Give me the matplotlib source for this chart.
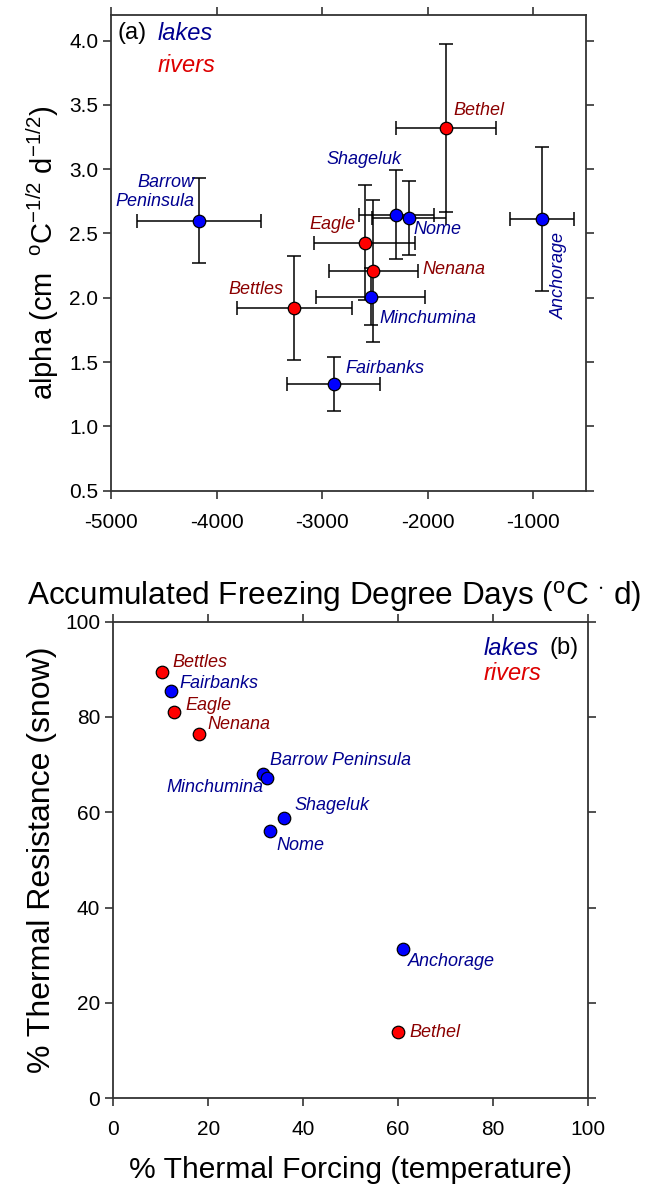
import numpy as np
import matplotlib
matplotlib.use("Agg")
from matplotlib import pyplot as plt

plt.rcParams['font.family'] = ['Liberation Sans', 'DejaVu Sans']
plt.rcParams['mathtext.fontset'] = 'custom'
plt.rcParams['mathtext.rm'] = 'Liberation Sans'
plt.rcParams['mathtext.it'] = 'Liberation Sans:italic'
plt.rcParams['axes.unicode_minus'] = False

# panel (a): accumulated freezing degree days vs alpha, with error bars
sites_a = ['Barrow\nPeninsula', 'Bethel', 'Shageluk', 'Nome', 'Eagle', 'Nenana',
           'Bettles', 'Minchumina', 'Fairbanks', 'Anchorage']
kind_a = ['lake', 'river', 'lake', 'lake', 'river', 'river',
          'river', 'lake', 'lake', 'lake']
afdd = [-4169, -1827, -2299, -2175, -2598, -2516, -3265, -2541, -2892, -920]
afdd_err = [592, 475, 355, 350, 478, 420, 545, 517, 443, 303]
alpha = [2.60, 3.32, 2.645, 2.62, 2.43, 2.21, 1.92, 2.01, 1.33, 2.61]
alpha_err = [0.33, 0.65, 0.345, 0.29, 0.45, 0.55, 0.405, 0.22, 0.21, 0.56]

# panel (b): % thermal forcing vs % thermal resistance
sites_b = ['Bettles', 'Fairbanks', 'Eagle', 'Nenana', 'Barrow Peninsula',
           'Minchumina', 'Shageluk', 'Nome', 'Anchorage', 'Bethel']
kind_b = ['river', 'lake', 'river', 'river', 'lake',
          'lake', 'lake', 'lake', 'lake', 'river']
forcing = [10.2, 12.2, 12.9, 18.0, 31.6, 32.5, 35.9, 33.0, 61.0, 60.1]
resistance = [89.4, 85.5, 81.1, 76.4, 68.0, 67.3, 58.8, 56.0, 31.3, 13.9]

dot_col = {'lake': '#0000FF', 'river': '#FF0000'}
txt_col = {'lake': '#000090', 'river': '#8B0000'}

# label offsets in pixels (dx, dy, ha, rotation)
offs_a = [(-5, 29, 'right', 0), (7, 18, 'left', 0), (-32, 55, 'center', 0),
          (4, -11, 'left', 0), (-9, 18, 'right', 0), (49, 1, 'left', 0),
          (-11, 19, 'right', 0), (9, -22, 'left', 0), (12, 16, 'left', 0),
          (18, -56, 'center', 90)]
offs_b = [(11, 10, 'left'), (8, 7, 'left'), (11, 6, 'left'), (9, 10, 'left'),
          (7, 14, 'left'), (-4, -10, 'right'), (11, 13, 'left'), (7, -14, 'left'),
          (5, -12, 'left'), (11, 0, 'left')]

fig = plt.figure(figsize=(6.51, 11.93), dpi=100)
ax1 = fig.add_axes([0.171, 0.5886, 0.729, 0.399])
ax2 = fig.add_axes([0.174, 0.0794, 0.7287, 0.3995])

px = 0.72  # pixel -> points


def style(ax):
    for s in ax.spines.values():
        s.set_linewidth(1.3)
        s.set_color('#333333')
    ax.tick_params(direction='out', length=6, width=1.2, labelsize=15,
                   top=True, right=True, colors='#333333', labelcolor='black')
    ax.tick_params(axis='x', pad=10)


# ---- panel a
for i in range(len(afdd)):
    ax1.errorbar(afdd[i], alpha[i], xerr=afdd_err[i], yerr=alpha_err[i],
                 fmt='none', ecolor='black', elinewidth=1.1, capsize=5, capthick=1.1,
                 zorder=2)
for i in range(len(afdd)):
    ax1.plot(afdd[i], alpha[i], 'o', color=dot_col[kind_a[i]], mec='black',
             mew=0.9, ms=9, zorder=3)
    dx, dy, ha, rot = offs_a[i]
    ax1.annotate(sites_a[i], (afdd[i], alpha[i]), xytext=(dx * px, dy * px),
                 textcoords='offset points', ha=ha, va='center', rotation=rot,
                 fontsize=13, style='italic', color=txt_col[kind_a[i]],
                 multialignment='right', linespacing=1.15)

ax1.set_xlim(-5000, -500)
ax1.set_ylim(0.5, 4.2)
ax1.set_xticks([-5000, -4000, -3000, -2000, -1000])
ax1.set_yticks(np.arange(0.5, 4.01, 0.5))
ax1.set_yticklabels(['%.1f' % v for v in np.arange(0.5, 4.01, 0.5)])
style(ax1)
ax1.set_xlabel('Accumulated Freezing Degree Days ($^{\\mathrm{o}}$C $^{\\cdot}$ d)',
               fontsize=22.7, labelpad=37)
ax1.xaxis.set_label_coords(0.47, -0.185)
ax1.set_ylabel('alpha (cm  $^{\\mathrm{o}}$C$^{\\mathrm{-1/2}}$ d$^{\\mathrm{-1/2}}$)',
               fontsize=21, labelpad=6)
ax1.text(0.014, 0.961, '(a)', transform=ax1.transAxes, fontsize=17, va='center')
ax1.text(0.098, 0.961, 'lakes', transform=ax1.transAxes, fontsize=17, va='center',
         style='italic', color='#000090')
ax1.text(0.098, 0.894, 'rivers', transform=ax1.transAxes, fontsize=17, va='center',
         style='italic', color='#DD0000')

# ---- panel b
for i in range(len(forcing)):
    ax2.plot(forcing[i], resistance[i], 'o', color=dot_col[kind_b[i]], mec='black',
             mew=0.9, ms=9, zorder=3)
    dx, dy, ha = offs_b[i]
    ax2.annotate(sites_b[i], (forcing[i], resistance[i]), xytext=(dx * px, dy * px),
                 textcoords='offset points', ha=ha, va='center',
                 fontsize=13, style='italic', color=txt_col[kind_b[i]])

ax2.set_xlim(0, 100)
ax2.set_ylim(0, 100)
ax2.set_xticks(range(0, 101, 20))
ax2.set_yticks(range(0, 101, 20))
style(ax2)
ax2.set_xlabel('% Thermal Forcing (temperature)', fontsize=21.6, labelpad=12)
ax2.set_ylabel('% Thermal Resistance (snow)', fontsize=23, labelpad=6)
ax2.text(0.781, 0.944, 'lakes', transform=ax2.transAxes, fontsize=17, va='center',
         style='italic', color='#000090')
ax2.text(0.781, 0.892, 'rivers', transform=ax2.transAxes, fontsize=17, va='center',
         style='italic', color='#DD0000')
ax2.text(0.9205, 0.944, '(b)', transform=ax2.transAxes, fontsize=17, va='center')

fig.savefig('out.png', dpi=100)
